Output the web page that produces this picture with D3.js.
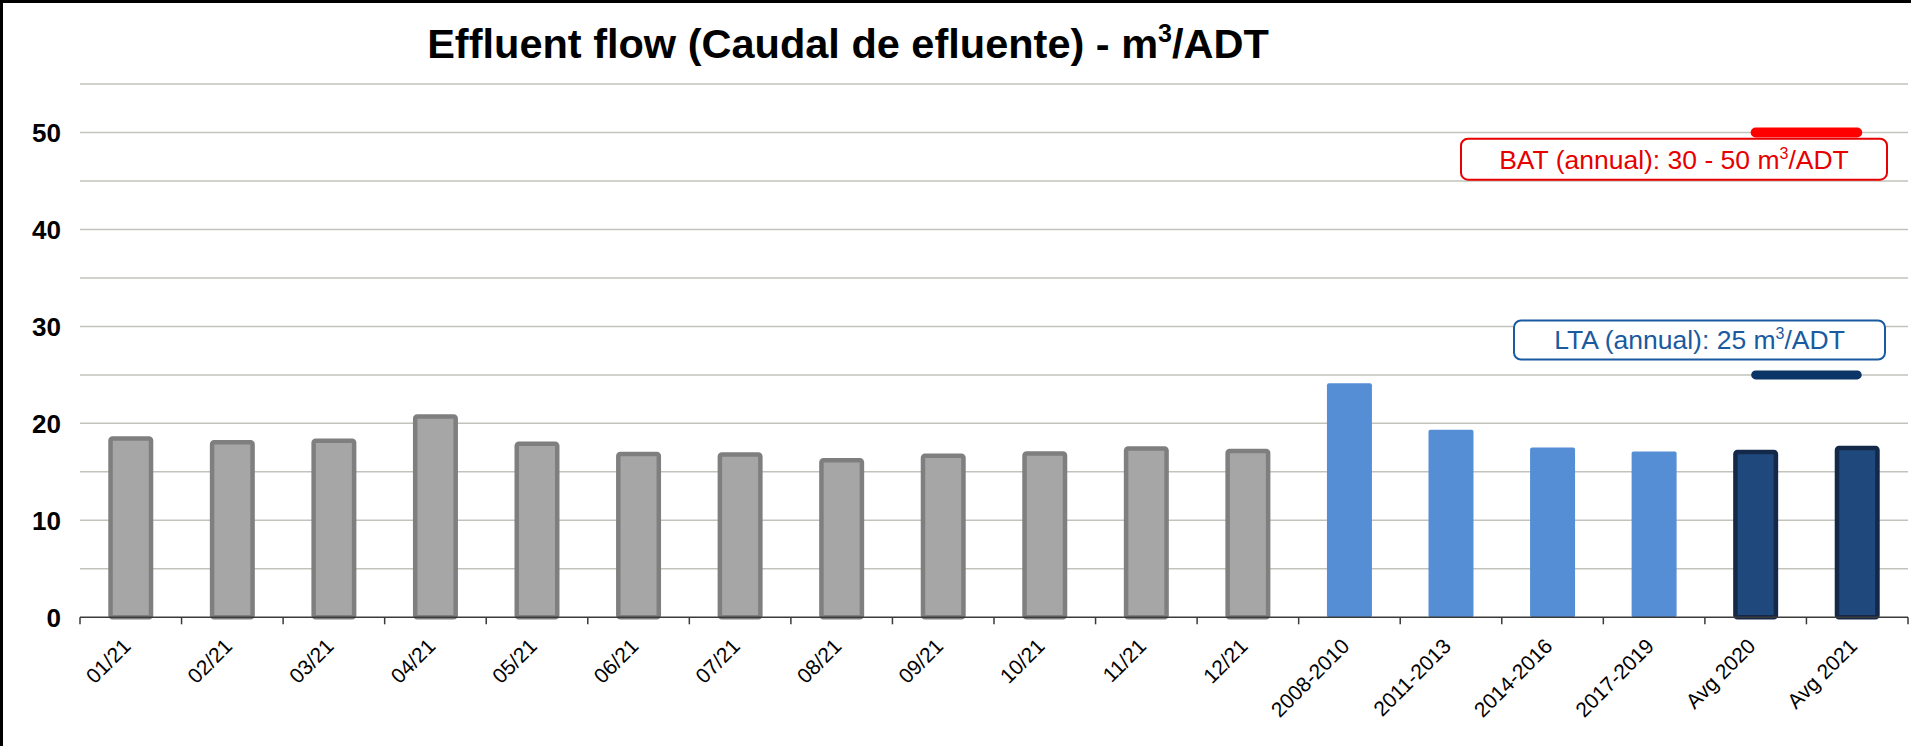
<!DOCTYPE html>
<html>
<head>
<meta charset="utf-8">
<script src="https://cdn.jsdelivr.net/npm/d3@7"></script>
<style>
  html, body { margin: 0; padding: 0; background: #fff; }
  svg { display: block; font-family: "Liberation Sans", Arial, sans-serif; }
</style>
</head>
<body>
<svg id="chart" width="1911" height="746"></svg>
<script>
// ---- Data ----
const categories = ["01/21","02/21","03/21","04/21","05/21","06/21","07/21","08/21","09/21","10/21","11/21","12/21",
                    "2008-2010","2011-2013","2014-2016","2017-2019","Avg 2020","Avg 2021"];
const values = [18.45, 18.05, 18.2, 20.7, 17.9, 16.85, 16.8, 16.2, 16.65, 16.9, 17.4, 17.15,
                24.15, 19.35, 17.5, 17.1, 17.05, 17.45];
const groups = ["month","month","month","month","month","month","month","month","month","month","month","month",
                "period","period","period","period","avg","avg"];
const yTicks = [0, 10, 20, 30, 40, 50];
const gridTicks = [0, 5, 10, 15, 20, 25, 30, 35, 40, 45, 50, 55];
const batCats = ["Avg 2020", "Avg 2021"];
const batValue = 50;
const ltaCats = ["Avg 2020", "Avg 2021"];
const ltaValue = 25;

(function () {
// ---- Layout ----
const W = 1911, H = 746;
const pLeft = 80, pRight = 1908, pTop = 84, pBottom = 617.3;
const svg = d3.select("#chart");

const x = d3.scaleBand().domain(categories).range([pLeft, pRight]).paddingInner(0.557).paddingOuter(0.2785);
const y = d3.scaleLinear().domain([0, 55]).range([pBottom, pTop]);

// frame (left + top border)
svg.append("line").attr("x1", 1.5).attr("x2", 1.5).attr("y1", 0).attr("y2", H).attr("stroke", "#000").attr("stroke-width", 3);
svg.append("line").attr("x1", 0).attr("x2", W).attr("y1", 1.5).attr("y2", 1.5).attr("stroke", "#000").attr("stroke-width", 3);

// title
const title = svg.append("text").attr("x", 848).attr("y", 58).attr("text-anchor", "middle")
  .attr("font-size", 41.5).attr("font-weight", "bold").attr("fill", "#000");
title.append("tspan").text("Effluent flow (Caudal de efluente) - m");
title.append("tspan").attr("font-size", 25).attr("dy", -16).text("3");
title.append("tspan").attr("dy", 16).text("/ADT");

// gridlines
svg.append("g").selectAll("line").data(gridTicks.filter(d => d > 0)).join("line")
  .attr("x1", pLeft).attr("x2", pRight)
  .attr("y1", d => y(d)).attr("y2", d => y(d))
  .attr("stroke", "#c3c3bb").attr("stroke-width", 1.5);

// y labels
svg.append("g").selectAll("text").data(yTicks).join("text")
  .attr("x", 61).attr("y", d => y(d)).attr("dy", "0.36em")
  .attr("text-anchor", "end").attr("font-size", 26).attr("font-weight", "bold").attr("fill", "#000")
  .text(d => d);

// bars
const bw = x.bandwidth();
const styles = {
  month:  { fill: "#a6a6a6", stroke: "#7f7f7f", sw: 4.5 },
  period: { fill: "#558ed5", stroke: "none", sw: 0 },
  avg:    { fill: "#1f497d", stroke: "#14284a", sw: 4.5 }
};
svg.append("g").selectAll("rect").data(categories.map((c, i) => ({ c, v: values[i], g: groups[i] }))).join("rect")
  .attr("x", d => x(d.c) + styles[d.g].sw / 2)
  .attr("width", d => bw - styles[d.g].sw)
  .attr("y", d => y(d.v))
  .attr("height", d => y(0) - y(d.v))
  .attr("rx", 2).attr("ry", 2)
  .attr("fill", d => styles[d.g].fill)
  .attr("stroke", d => styles[d.g].stroke)
  .attr("stroke-width", d => styles[d.g].sw);

// x axis
const xAxis = svg.append("g");
xAxis.append("line").attr("x1", pLeft).attr("x2", pRight).attr("y1", y(0)).attr("y2", y(0))
  .attr("stroke", "#3a3a3a").attr("stroke-width", 1.5);
const tickXs = d3.range(categories.length + 1).map(i => pLeft + i * x.step());
xAxis.selectAll("line.tick").data(tickXs).join("line").attr("class", "tick")
  .attr("x1", d => d).attr("x2", d => d).attr("y1", y(0)).attr("y2", y(0) + 7)
  .attr("stroke", "#3a3a3a").attr("stroke-width", 1.5);
xAxis.selectAll("text").data(categories).join("text")
  .attr("transform", d => `translate(${x(d) + bw / 2 - 4},${y(0) + 25}) rotate(-45)`)
  .attr("text-anchor", "end").attr("dy", "0.35em")
  .attr("font-size", 21).attr("fill", "#000")
  .text(d => d);

// BAT / LTA lines
const lineGen = d3.line().x(d => x(d) + bw / 2);
svg.append("path").attr("d", lineGen.y(() => y(batValue))(batCats))
  .attr("stroke", "#ff0000").attr("stroke-width", 10).attr("stroke-linecap", "round").attr("fill", "none");
svg.append("path").attr("d", lineGen.y(() => y(ltaValue))(ltaCats))
  .attr("stroke", "#0a3566").attr("stroke-width", 9).attr("stroke-linecap", "round").attr("fill", "none");

// annotation boxes
function box(x0, x1, yc, h, color, parts) {
  const g = svg.append("g");
  g.append("rect").attr("x", x0).attr("y", yc - h / 2).attr("width", x1 - x0).attr("height", h)
    .attr("rx", 7).attr("fill", "#fff").attr("stroke", color).attr("stroke-width", 2);
  const t = g.append("text").attr("x", (x0 + x1) / 2).attr("y", yc + 9.5).attr("text-anchor", "middle")
    .attr("font-size", 26.5).attr("fill", color);
  t.append("tspan").text(parts[0]);
  t.append("tspan").attr("font-size", 16).attr("dy", -10).text("3");
  t.append("tspan").attr("dy", 10).text(parts[1]);
}
box(1461, 1887, y(47.25), 41, "#e60000", ["BAT (annual): 30 - 50 m", "/ADT"]);
box(1514, 1885, y(28.6), 39, "#1a5aa0", ["LTA (annual): 25 m", "/ADT"]);
})();
</script>
</body>
</html>
